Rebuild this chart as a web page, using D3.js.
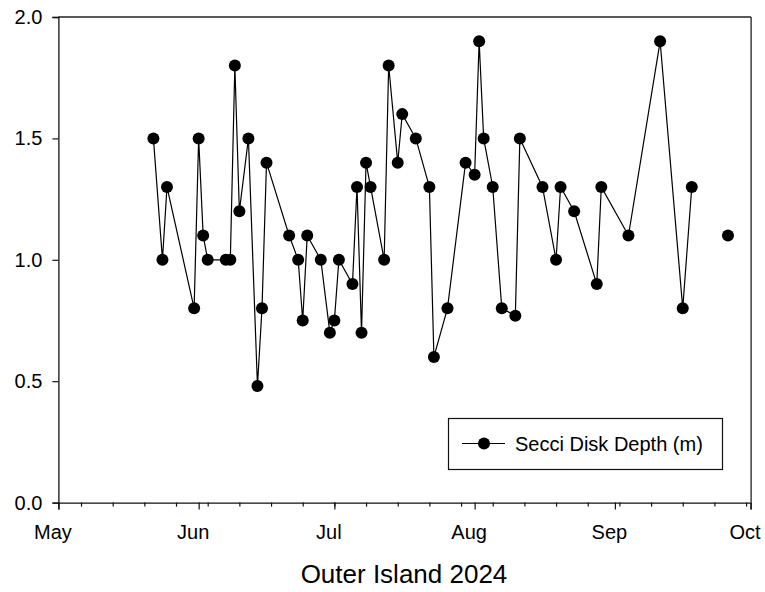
<!DOCTYPE html>
<html><head><meta charset="utf-8">
<script src="https://cdn.jsdelivr.net/npm/d3@7"></script>
<style>html,body{margin:0;padding:0;background:#fff}svg{display:block}text{font-family:"Liberation Sans",Arial,sans-serif;fill:#000}</style>
</head><body><svg id="c" width="765" height="592"></svg>
<script>
// Sampling dates (2024) and Secchi disk depth (m); null marks a break in the line
const dates = ["2024-05-22","2024-05-24","2024-05-25","2024-05-31","2024-06-01","2024-06-02","2024-06-03","2024-06-07","2024-06-08","2024-06-09","2024-06-10","2024-06-12","2024-06-14","2024-06-15","2024-06-16","2024-06-21","2024-06-23","2024-06-24","2024-06-25","2024-06-28","2024-06-30","2024-07-01","2024-07-02","2024-07-05","2024-07-06","2024-07-07","2024-07-08","2024-07-09","2024-07-12","2024-07-13","2024-07-15","2024-07-16","2024-07-19","2024-07-22","2024-07-23","2024-07-26","2024-07-30","2024-08-01","2024-08-02","2024-08-03","2024-08-05","2024-08-07","2024-08-10","2024-08-11","2024-08-16","2024-08-19","2024-08-20","2024-08-23","2024-08-28","2024-08-29","2024-09-04","2024-09-11","2024-09-16","2024-09-18","2024-09-22","2024-09-26"];
const depth = [1.5,1.0,1.3,0.8,1.5,1.1,1.0,1.0,1.0,1.8,1.2,1.5,0.48,0.8,1.4,1.1,1.0,0.75,1.1,1.0,0.7,0.75,1.0,0.9,1.3,0.7,1.4,1.3,1.0,1.8,1.4,1.6,1.5,1.3,0.6,0.8,1.4,1.35,1.9,1.5,1.3,0.8,0.77,1.5,1.3,1.0,1.3,1.2,0.9,1.3,1.1,1.9,0.8,1.3,null,1.1];
const monthTicks = ["2024-05-01","2024-06-01","2024-07-01","2024-08-01","2024-09-01","2024-10-01"];
const monthLabels = ["May","Jun","Jul","Aug","Sep","Oct"];
const yTicks = [0,0.5,1.0,1.5,2.0];
const seriesName = "Secci Disk Depth (m)";
const title = "Outer Island 2024";

const parse = d3.utcParse("%Y-%m-%d");
const data = dates.map((d,i)=>({date:parse(d), v:depth[i]}));
const svg = d3.select("#c");
const L=58.4, R=750.6, T=17, B=502.6;
const x = d3.scaleUtc().domain([parse("2024-05-01"), parse("2024-10-01")]).range([L,R]);
const y = d3.scaleLinear().domain([0,2]).range([B,T]);

// frame (top & right)
svg.append("line").attr("x1",L).attr("x2",R+0.5).attr("y1",T).attr("y2",T).attr("stroke","#222").attr("stroke-width",1.3);
svg.append("line").attr("x1",R+0.5).attr("x2",R+0.5).attr("y1",T).attr("y2",B).attr("stroke","#222").attr("stroke-width",1.3);

// y axis
svg.append("g").attr("transform",`translate(${L},0)`)
  .call(d3.axisLeft(y).tickValues(yTicks).tickFormat(d3.format(".1f")).tickSize(6).tickPadding(10));
// x minor ticks (weekly, Mondays)
const minor = d3.utcMonday.range(parse("2024-05-01"), parse("2024-10-02"));
svg.append("g").attr("transform",`translate(0,${B})`)
  .call(d3.axisBottom(x).tickValues(minor).tickSize(4).tickFormat(""))
  .call(g=>g.select(".domain").remove());
const xa = svg.append("g").attr("transform",`translate(0,${B})`)
  .call(d3.axisBottom(x).tickValues(monthTicks.map(parse)).tickSize(7).tickPadding(15).tickFormat((d,i)=>monthLabels[i]));
xa.selectAll("text").attr("dx",-6);
svg.selectAll(".domain").attr("stroke","#111").attr("stroke-width",1.3);
svg.selectAll(".tick line").attr("stroke","#111").attr("stroke-width",1.2);
svg.selectAll(".tick text").style("font-size","20px").style("font-family","'Liberation Sans',Arial,sans-serif");

// data line
const line = d3.line().defined(d=>d.v!=null).x(d=>x(d.date)).y(d=>y(d.v));
svg.append("path").datum(data).attr("d",line).attr("fill","none").attr("stroke","#000").attr("stroke-width",1.2);
svg.append("g").selectAll("circle").data(data.filter(d=>d.v!=null)).join("circle")
  .attr("cx",d=>x(d.date)).attr("cy",d=>y(d.v)).attr("r",6).attr("fill","#000");

// legend
const lg = svg.append("g");
lg.append("rect").attr("x",448.5).attr("y",418.5).attr("width",274).attr("height",51).attr("fill","#fff").attr("stroke","#111").attr("stroke-width",1.2);
lg.append("line").attr("x1",462).attr("x2",505).attr("y1",443.5).attr("y2",443.5).attr("stroke","#000").attr("stroke-width",1.2);
lg.append("circle").attr("cx",484).attr("cy",443.5).attr("r",6).attr("fill","#000");
lg.append("text").attr("x",515).attr("y",451).style("font-size","20px").text(seriesName);

// title
svg.append("text").attr("x",404).attr("y",583).attr("text-anchor","middle").style("font-size","26px").text(title);
</script></body></html>
